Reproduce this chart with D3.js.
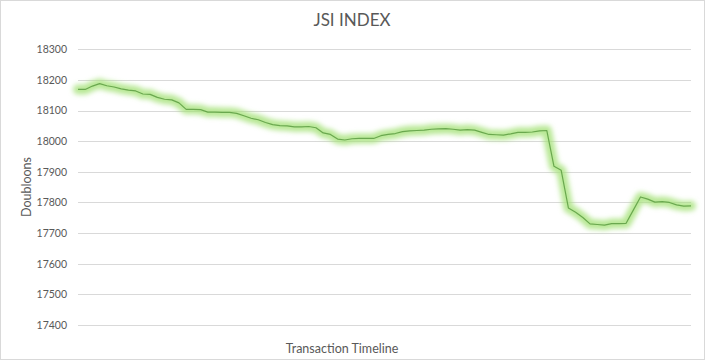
<!DOCTYPE html>
<html>
<head>
<meta charset="utf-8">
<script src="https://cdn.jsdelivr.net/npm/d3@7"></script>
<style>
  html, body { margin: 0; padding: 0; background: #fff; }
  svg { display: block; }
  text { font-family: Lato, "Open Sans", sans-serif; fill: #595959; }
</style>
</head>
<body>
<script>
const title = "JSI INDEX";
const yTitle = "Doubloons";
const xTitle = "Transaction Timeline";
const yTicks = [17400, 17500, 17600, 17700, 17800, 17900, 18000, 18100, 18200, 18300];
const values = [
  18169, 18169, 18180, 18188, 18181, 18177, 18171, 18167, 18164, 18154,
  18153, 18143, 18137, 18135, 18125, 18104, 18104, 18103, 18095, 18095,
  18094, 18094, 18091, 18083, 18075, 18070, 18061, 18054, 18051, 18050,
  18047, 18047, 18048, 18044, 18027, 18022, 18007, 18004, 18008, 18009,
  18009, 18009, 18018, 18022, 18025, 18031, 18034, 18035, 18036, 18039,
  18040, 18041, 18039, 18036, 18038, 18036, 18029, 18022, 18021, 18020,
  18024, 18029, 18029, 18030, 18034, 18035, 17918, 17905, 17782, 17768,
  17751, 17730, 17728, 17726, 17731, 17731, 17732, 17775, 17818, 17811,
  17801, 17803, 17800, 17792, 17788, 17789
];
const categories = values.map((_, i) => i + 1);

const W = 705, H = 360;
const svg = d3.select("body").append("svg").attr("width", W).attr("height", H);

svg.append("rect").attr("x", 0.5).attr("y", 0.5).attr("width", W - 1).attr("height", H - 1)
  .attr("fill", "#fff").attr("stroke", "#d9d9d9");

const pLeft = 78, pRight = 691, pTop = 49.3, pBottom = 325;
const x = d3.scalePoint().domain(categories).range([pLeft, pRight]);
const y = d3.scaleLinear().domain([17400, 18300]).range([pBottom, pTop]);

// gridlines
svg.append("g").selectAll("line").data(yTicks).join("line")
  .attr("x1", pLeft).attr("x2", pRight)
  .attr("y1", d => Math.round(y(d)) + 0.5).attr("y2", d => Math.round(y(d)) + 0.5)
  .attr("stroke", "#d9d9d9").attr("stroke-width", 1);

// y axis labels
const yAxis = d3.axisLeft(y).tickValues(yTicks).tickSize(0).tickPadding(0).tickFormat(d3.format("d"));
const ga = svg.append("g").attr("transform", "translate(67,0)").call(yAxis);
ga.select(".domain").remove();
ga.selectAll("text").attr("font-size", "10.5px").attr("fill", "#595959")
  .style("font-family", "Lato, 'Open Sans', sans-serif");

// glow
const defs = svg.append("defs");
const f = defs.append("filter").attr("id", "glow").attr("x", "-10%").attr("y", "-30%").attr("width", "120%").attr("height", "160%");
f.append("feGaussianBlur").attr("stdDeviation", 2.8);

const line = d3.line().x((d, i) => x(categories[i])).y(d => y(d));

svg.append("path").datum(values).attr("d", line)
  .attr("fill", "none").attr("stroke", "#a6e27a").attr("stroke-opacity", 0.8)
  .attr("stroke-width", 10).attr("stroke-linejoin", "round").attr("stroke-linecap", "round")
  .attr("filter", "url(#glow)");

svg.append("path").datum(values).attr("d", line)
  .attr("fill", "none").attr("stroke", "#6aa84f").attr("stroke-width", 1.2)
  .attr("stroke-linejoin", "round");

// titles
svg.append("text").attr("x", 352).attr("y", 26).attr("text-anchor", "middle")
  .attr("font-size", "17px").text(title);
svg.append("text").attr("transform", "translate(31,187) rotate(-90)").attr("text-anchor", "middle")
  .attr("font-size", "12.5px").text(yTitle);
svg.append("text").attr("x", 342).attr("y", 353).attr("text-anchor", "middle")
  .attr("font-size", "12.5px").text(xTitle);
</script>
</body>
</html>
